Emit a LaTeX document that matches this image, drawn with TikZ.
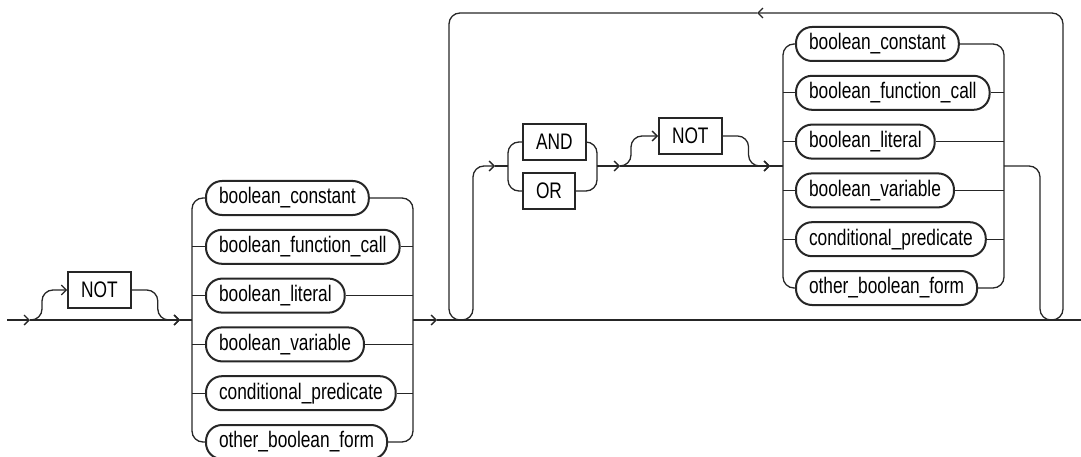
\documentclass[tikz,border=0pt]{standalone}
\usepackage{fontspec}
\setmainfont{Liberation Sans}[FakeStretch=0.77]
\usepackage{tikz}
\usetikzlibrary{arrows.meta,positioning,calc}
\definecolor{ink}{HTML}{262626}
\tikzset{
  % keyword: plain box
  kw/.style    = {rectangle, draw=ink, line width=2pt, inner xsep=13pt, inner ysep=0pt,
                  minimum height=36pt, font=\fontsize{22.5}{26}\selectfont},
  % rule name: rounded ends
  nt/.style    = {rectangle, rounded corners=16pt, draw=ink, line width=2pt, inner xsep=13pt,
                  inner ysep=0pt, minimum height=34pt, anchor=west,
                  font=\fontsize{22.5}{26}\selectfont},
  track/.style = {draw=ink, line width=1.3pt, rounded corners=11pt},
  fwd/.style   = {track, -{Straight Barb[length=5pt,width=10pt]}},
}

\begin{document}
\begin{tikzpicture}[x=1pt,y=-1pt]
\useasboundingbox (0,0) rectangle (1081,457);
% main line
\coordinate (start) at (7,320);
\coordinate (s1)    at (30,320);
\coordinate (s2)    at (180,320);
\coordinate (lin)   at (192,320);
\coordinate (lout)  at (413,320);
\coordinate (s3)    at (437,320);
\coordinate (stop)  at (1081,320);
% loop
\coordinate (ul)   at (449,320);
\coordinate (ur)   at (473,320);
\coordinate (s4)   at (495,166);
\coordinate (ain)  at (508,166);
\coordinate (aout) at (597,166);
\coordinate (s5)   at (620,166);
\coordinate (s6)   at (770,166);
\coordinate (rin)  at (783,166);
\coordinate (rout) at (1004,166);
\coordinate (dl)   at (1040,320);
\coordinate (dr)   at (1063,320);
\coordinate (back) at (757,13);

\node[kw] (not1) at (99.5,290) {NOT};
\foreach \t [count=\i] in {boolean\_constant,boolean\_function\_call,boolean\_literal,
                           boolean\_variable,conditional\_predicate,other\_boolean\_form}
  {\node[nt] (L\i) at (205,{198+48.8*(\i-1)}) {\t};}

\node[kw, anchor=west] (and1) at (522,142) {AND};
\node[kw, anchor=west] (or1)  at (522,191) {OR};
\node[kw, anchor=west] (not2) at (658,136) {NOT};
\foreach \t [count=\i] in {boolean\_constant,boolean\_function\_call,boolean\_literal,
                           boolean\_variable,conditional\_predicate,other\_boolean\_form}
  {\node[nt] (R\i) at (795,{44+48.8*(\i-1)}) {\t};}

% optional NOT
\draw[fwd] (start) -- (s1);
\draw[fwd] (s1) -- (s2);
\draw[fwd] (s1) -- ++(12,0) |- (not1.west);
\draw[fwd] (not1.east) -- ++(26,0) |- (s2);
\draw[track] (s2) -- (lin);

% first choice
\foreach \i in {1,6}
  {\draw[track] (L\i.west) -| (lin);
   \draw[track] (L\i.east) -| (lout);}
\foreach \i in {2,...,5}
  {\draw[track] (L\i.west) -- (L\i.west -| lin);
   \draw[track] (L\i.east) -- (L\i.east -| lout);}
\draw[fwd] (lout) -- (s3);
\draw[track] (s3) -- (stop);

% repeat loop
\draw[fwd] (back) -| (ul) -- (ur) |- (s4);
\draw[track] (s4) -- (ain);
\foreach \n in {and1,or1}
  {\draw[track] (\n.west) -| (ain);
   \draw[track] (\n.east) -| (aout);}
\draw[fwd] (aout) -- (s5);
\draw[fwd] (s5) -- (s6);
\draw[fwd] (s5) -- ++(11,0) |- (not2.west);
\draw[fwd] (not2.east) -- ++(26,0) |- (s6);
\draw[track] (s6) -- (rin);
\foreach \i in {1,6}
  {\draw[track] (R\i.west) -| (rin);
   \draw[track] (R\i.east) -| (rout);}
\foreach \i in {2,...,5}
  {\draw[track] (R\i.west) -- (R\i.west -| rin);
   \draw[track] (R\i.east) -- (R\i.east -| rout);}
\draw[fwd] (rout) -- ++(36,0) -- (dl) -- (dr) |- (back);
\end{tikzpicture}
\end{document}
